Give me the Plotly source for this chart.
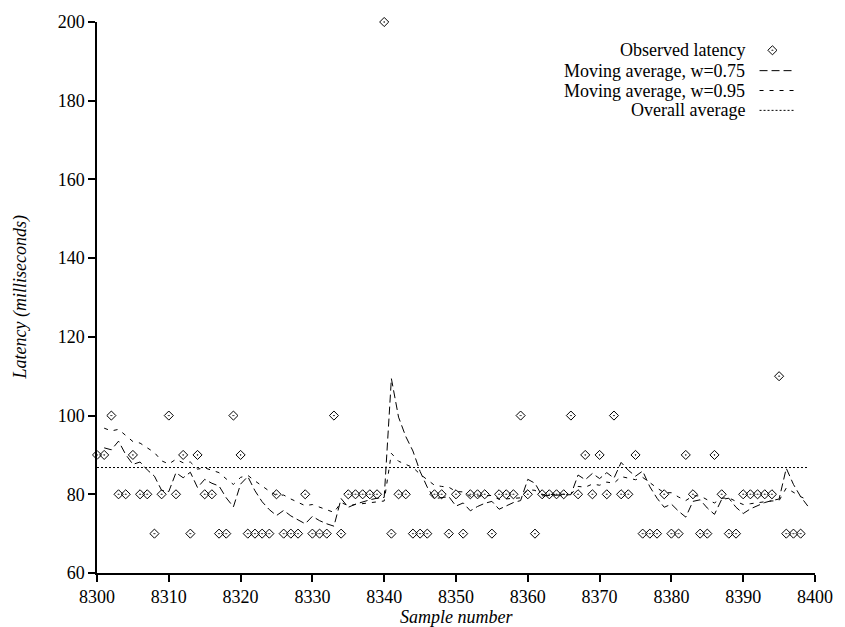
import plotly.graph_objects as go

# Observed round-trip latency (ms), one reading per sample starting at 8300
first_sample = 8300
latency_ms = [
    90, 90, 100, 80, 80, 90, 80, 80, 70, 80,
    100, 80, 90, 70, 90, 80, 80, 70, 70, 100,
    90, 70, 70, 70, 70, 80, 70, 70, 70, 80,
    70, 70, 70, 100, 70, 80, 80, 80, 80, 80,
    200, 70, 80, 80, 70, 70, 70, 80, 80, 70,
    80, 70, 80, 80, 80, 70, 80, 80, 80, 100,
    80, 70, 80, 80, 80, 80, 100, 80, 90, 80,
    90, 80, 100, 80, 80, 90, 70, 70, 70, 80,
    70, 70, 90, 80, 70, 70, 90, 80, 70, 70,
    80, 80, 80, 80, 80, 110, 70, 70, 70,
]
samples = list(range(first_sample, first_sample + len(latency_ms)))

# Smoothed estimates, each plotted at the sample it predicts (8301 onwards)
ma_075 = [
    91.8, 91.3, 93.5, 90.1, 87.6, 88.2, 86.2, 84.6, 81.0, 80.7,
    85.5, 84.2, 85.6, 81.7, 83.8, 82.8, 82.1, 79.1, 76.8, 82.6,
    84.5, 80.9, 78.1, 76.1, 74.6, 75.9, 74.5, 73.4, 72.5, 74.4,
    73.3, 72.5, 71.9, 78.9, 76.7, 77.5, 78.1, 78.6, 79.0, 79.2,
    109.4, 99.6, 94.7, 91.0, 85.8, 81.8, 78.9, 79.1, 79.4, 77.0,
    77.8, 75.8, 76.9, 77.7, 78.2, 76.2, 77.1, 77.9, 78.4, 83.8,
    82.8, 79.6, 79.7, 79.8, 79.8, 79.9, 84.9, 83.7, 85.3, 84.0,
    85.5, 84.1, 88.1, 86.1, 84.6, 85.9, 81.9, 79.0, 76.7, 77.5,
    75.7, 74.2, 78.2, 78.6, 76.5, 74.9, 78.7, 79.0, 76.7, 75.1,
    76.3, 77.2, 77.9, 78.4, 78.8, 86.6, 82.5, 79.4, 77.0,
]
ma_095 = [
    96.8, 96.1, 96.5, 94.9, 93.4, 93.0, 91.7, 90.6, 88.5, 87.7,
    88.9, 88.0, 88.2, 86.4, 86.7, 86.1, 85.5, 83.9, 82.5, 84.3,
    84.8, 83.4, 82.0, 80.8, 79.7, 79.8, 78.8, 77.9, 77.1, 77.4,
    76.7, 76.0, 75.4, 77.9, 77.1, 77.4, 77.6, 77.9, 78.1, 78.3,
    90.4, 88.4, 87.6, 86.8, 85.1, 83.6, 82.3, 82.0, 81.8, 80.7,
    80.6, 79.5, 79.6, 79.6, 79.7, 78.7, 78.8, 78.9, 79.1, 81.2,
    81.0, 79.9, 80.0, 80.0, 80.0, 80.0, 82.0, 81.8, 82.6, 82.3,
    83.1, 82.8, 84.5, 84.1, 83.7, 84.3, 82.9, 81.6, 80.4, 80.4,
    79.3, 78.4, 79.6, 79.6, 78.6, 77.8, 79.0, 79.1, 78.2, 77.4,
    77.6, 77.9, 78.1, 78.3, 78.4, 81.6, 80.4, 79.4, 78.5,
]
ma_samples = list(range(first_sample + 1, first_sample + 1 + len(ma_075)))

overall_average = 86.8

x_ticks = list(range(8300, 8401, 10))
y_ticks = list(range(60, 201, 20))

legend_labels = [
    "Observed latency",
    "Moving average, w=0.75",
    "Moving average, w=0.95",
    "Overall average",
]

FONT = "Liberation Serif"
INK = "black"
DASH_075 = "8px,4px"
DASH_095 = "4px,6px"
DASH_AVG = "2px,2px"
MARKER = dict(symbol="diamond-open-dot", size=7, color=INK,
              line=dict(width=1, color=INK))

fig = go.Figure()

fig.add_trace(go.Scatter(
    x=samples, y=latency_ms, mode="markers", marker=MARKER,
    cliponaxis=False, showlegend=False,
))
fig.add_trace(go.Scatter(
    x=ma_samples, y=ma_075, mode="lines",
    line=dict(color=INK, width=1, dash=DASH_075), showlegend=False,
))
fig.add_trace(go.Scatter(
    x=ma_samples, y=ma_095, mode="lines",
    line=dict(color=INK, width=1, dash=DASH_095), showlegend=False,
))
fig.add_trace(go.Scatter(
    x=[samples[0], ma_samples[-1]], y=[overall_average, overall_average],
    mode="lines", line=dict(color=INK, width=1, dash=DASH_AVG),
    showlegend=False,
))

# Key drawn on a pixel-scaled overlay: labels right-aligned, samples to the right
plot_left, plot_right, plot_top, plot_bottom = 97, 822, 18, 573
key_rows = [46.5, 67, 87, 107]
key_text_right = 753
key_line = (766, 801)
key_marker_x = 779

fig.add_trace(go.Scatter(
    x=[key_marker_x], y=[key_rows[0]], xaxis="x2", yaxis="y2", mode="markers",
    marker=MARKER, showlegend=False, hoverinfo="skip",
))
for row, dash in zip(key_rows[1:], [DASH_075, DASH_095, DASH_AVG]):
    fig.add_trace(go.Scatter(
        x=list(key_line), y=[row, row], xaxis="x2", yaxis="y2", mode="lines",
        line=dict(color=INK, width=1, dash=dash),
        showlegend=False, hoverinfo="skip",
    ))

annotations = []
for row, label in zip(key_rows, legend_labels):
    annotations.append(dict(
        x=key_text_right, y=row, xref="x2", yref="y2", text=label,
        showarrow=False, xanchor="right", yanchor="middle",
        font=dict(family=FONT, size=18, color=INK),
    ))
annotations.append(dict(
    x=0.5, y=-0.079, xref="paper", yref="paper", text="<i>Sample number</i>",
    showarrow=False, xanchor="center", yanchor="middle",
    font=dict(family=FONT, size=18, color=INK),
))
annotations.append(dict(
    x=-0.106, y=0.5, xref="paper", yref="paper",
    text="<i>Latency (milliseconds)</i>", textangle=-90,
    showarrow=False, xanchor="center", yanchor="middle",
    font=dict(family=FONT, size=18, color=INK),
))

axis_common = dict(
    showgrid=False, zeroline=False, showline=True, linecolor=INK,
    linewidth=1.5, ticks="outside", ticklen=7, tickwidth=1.5,
    tickcolor=INK, tickfont=dict(family=FONT, size=18, color=INK),
    mirror=False,
)

fig.update_layout(
    width=845, height=627,
    margin=dict(l=plot_left, r=845 - plot_right, t=plot_top,
                b=627 - plot_bottom, pad=0),
    paper_bgcolor="white", plot_bgcolor="white",
    xaxis=dict(range=[8300, 8400], tickvals=x_ticks, ticklabelstandoff=0,
               **axis_common),
    yaxis=dict(range=[60, 200], tickvals=y_ticks, **axis_common),
    xaxis2=dict(range=[plot_left, plot_right], overlaying="x", visible=False,
                fixedrange=True),
    yaxis2=dict(range=[plot_bottom, plot_top], overlaying="y", visible=False,
                fixedrange=True),
    annotations=annotations,
    showlegend=False,
)

fig.write_html("out.html")
